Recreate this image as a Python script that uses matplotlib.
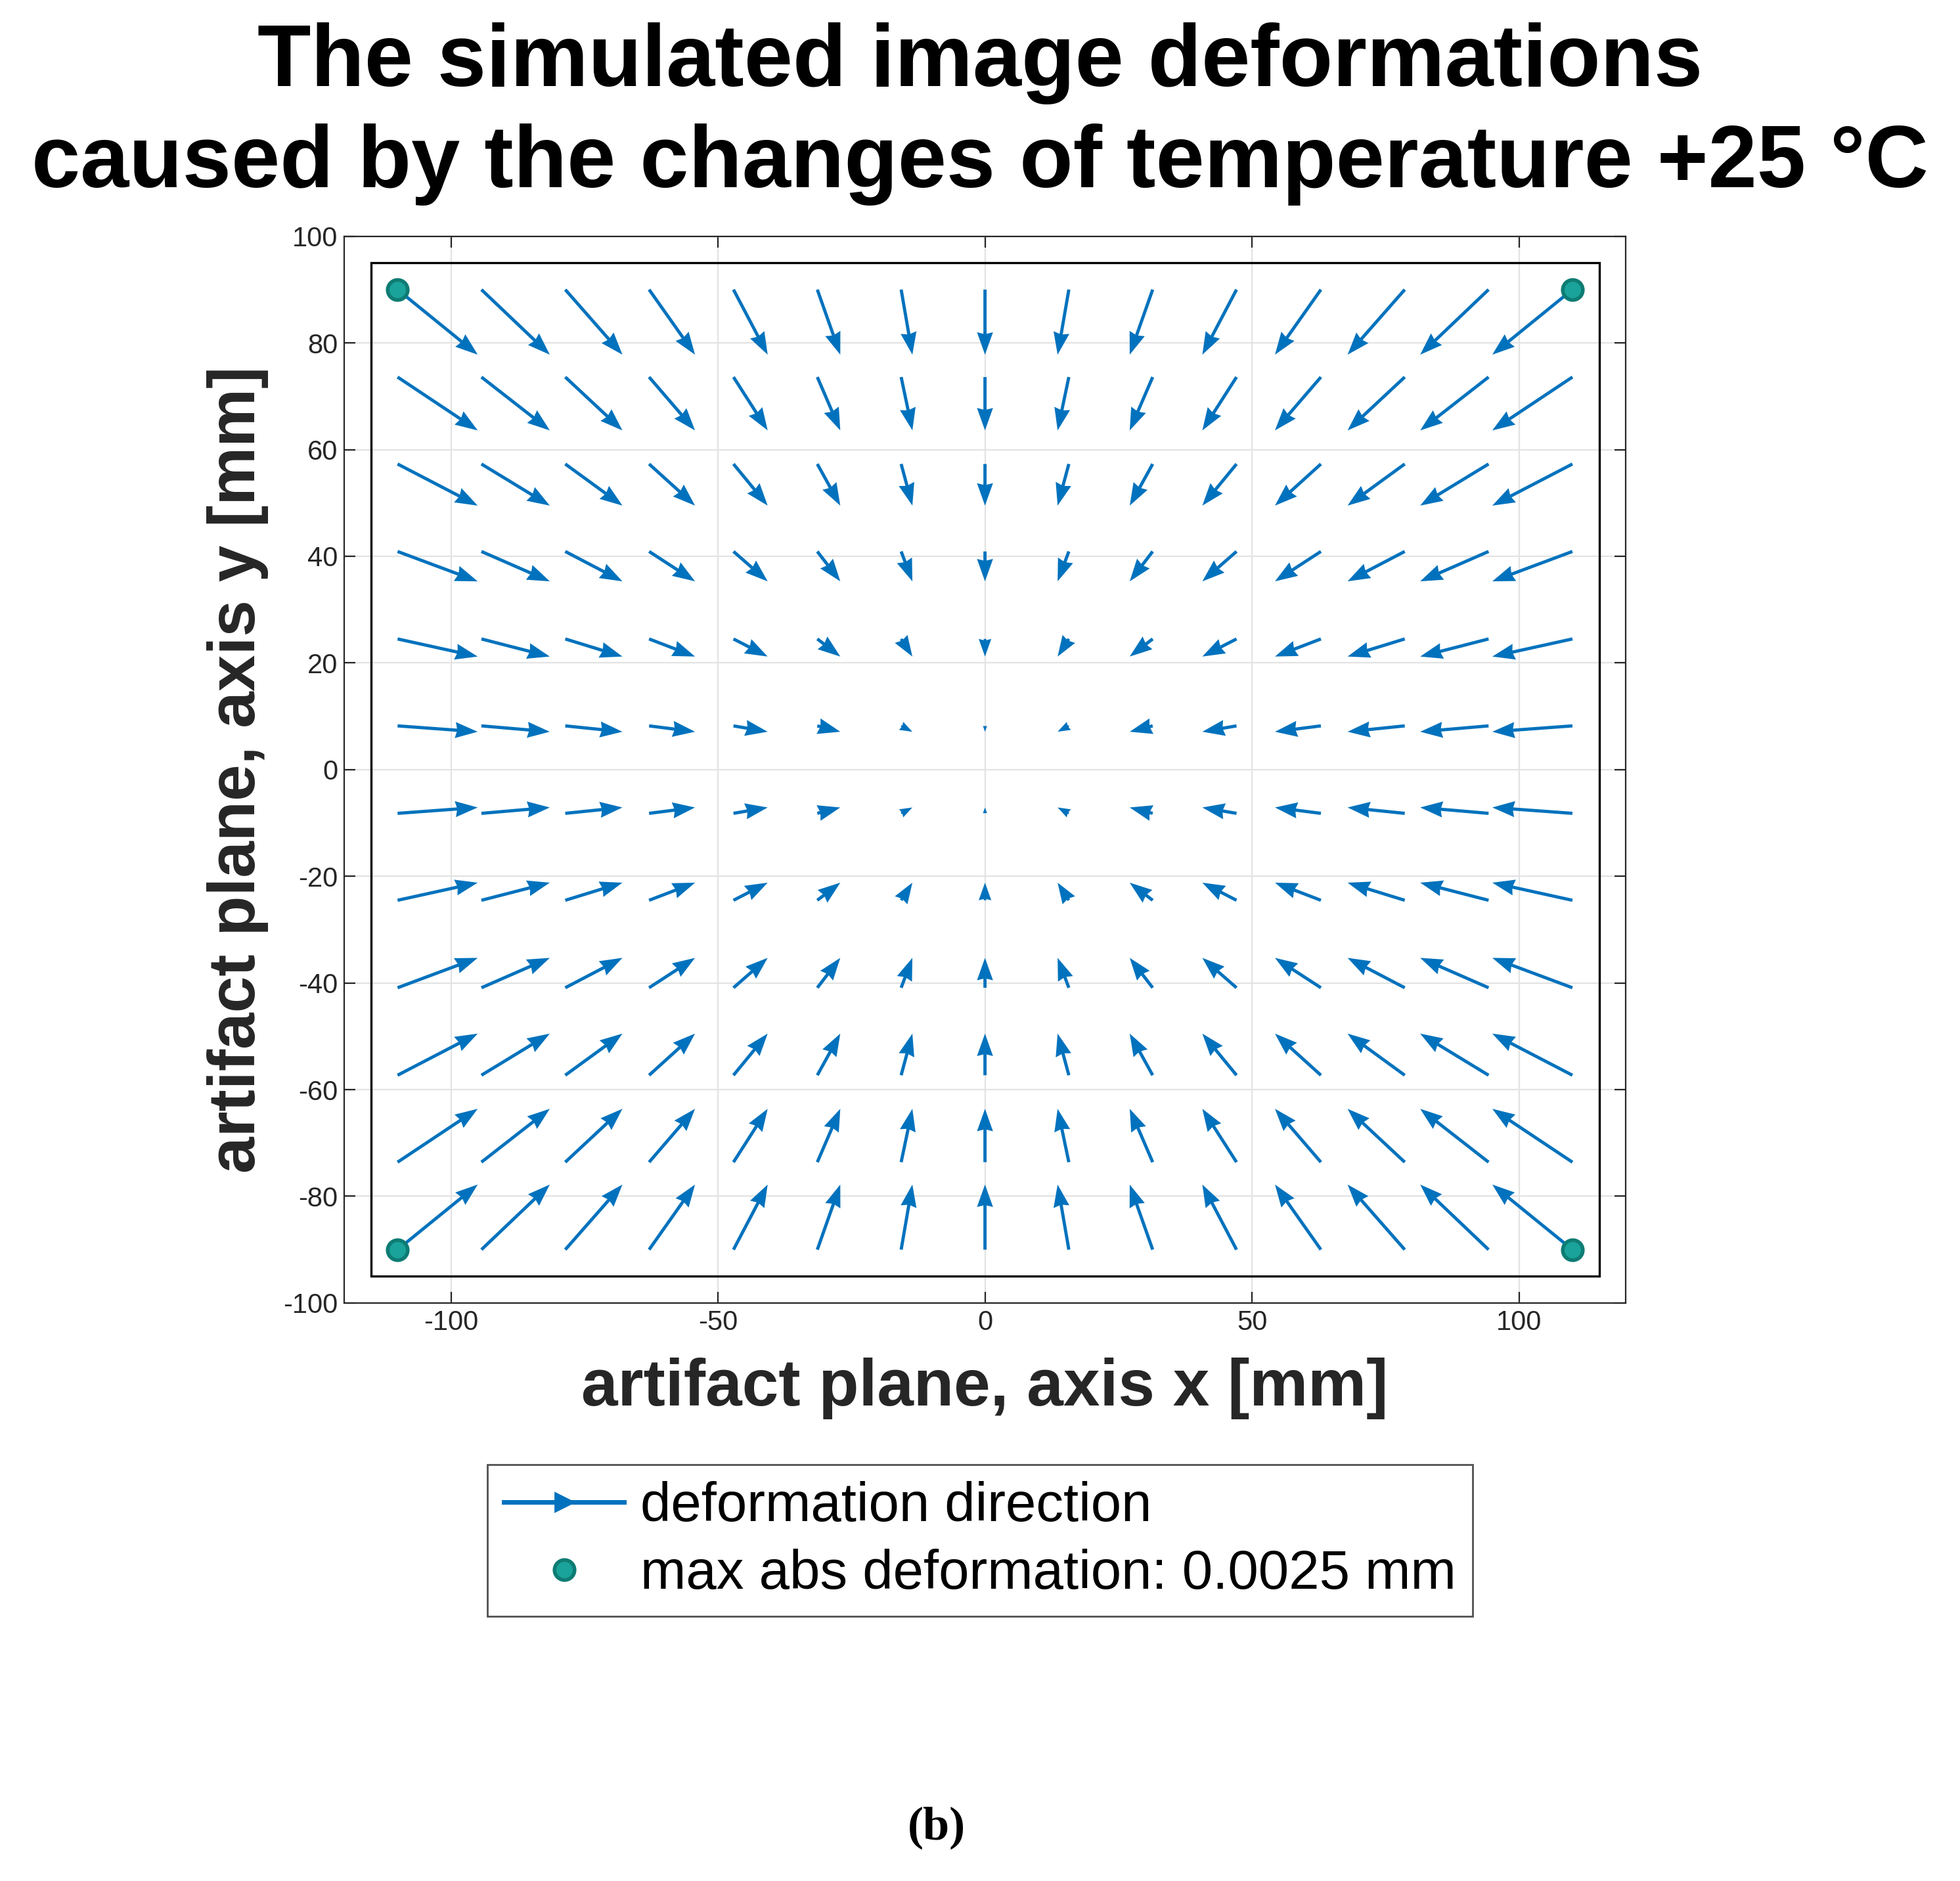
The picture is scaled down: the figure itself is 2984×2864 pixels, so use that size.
import numpy as np
import matplotlib
matplotlib.use("Agg")
import matplotlib.pyplot as plt
from matplotlib.lines import Line2D
from matplotlib.patches import Rectangle

plt.rcParams['font.family'] = ['Liberation Sans', 'DejaVu Sans']
plt.rcParams['axes.unicode_minus'] = False

x_pos = [-110, -94.3, -78.6, -62.9, -47.1, -31.4, -15.7, 0, 15.7, 31.4, 47.1, 62.9, 78.6, 94.3, 110]
y_pos = [90, 73.6, 57.3, 40.9, 24.5, 8.2, -8.2, -24.5, -40.9, -57.3, -73.6, -90]
# displacement (arrow) components, x depends on column, y on row
u_cols = [15.0, 12.8, 10.7, 8.6, 6.4, 4.3, 2.1, 0.0, -2.1, -4.3, -6.4, -8.6, -10.7, -12.8, -15.0]
v_rows = [-12.2, -10.0, -7.8, -5.6, -3.3, -1.1, 1.1, 3.3, 5.6, 7.8, 10.0, 12.2]
max_pts_x = [-110, 110, -110, 110]
max_pts_y = [90, 90, -90, -90]

X, Y = np.meshgrid(x_pos, y_pos)
U, V = np.meshgrid(u_cols, v_rows)

fig = plt.figure(figsize=(14.92, 14.32), dpi=200)
ax = fig.add_axes([0.1756, 0.3073, 0.6539, 0.5671])
blue = "#0072BD"
ax.quiver(X, Y, U, V, angles='xy', scale_units='xy', scale=1, color=blue,
          width=0.0025, headwidth=5, headlength=7, headaxislength=6.5, zorder=3)
ax.plot(max_pts_x, max_pts_y, 'o', ms=11, mfc='#1AA39A', mec='#0E7C74', mew=2, zorder=4)
ax.add_patch(Rectangle((-115, -95), 230, 190, fill=False, ec='black', lw=1.2, zorder=2))
ax.set_xlim(-120, 120)
ax.set_ylim(-100, 100)
ax.set_xticks([-100, -50, 0, 50, 100])
ax.set_yticks(np.arange(-100, 101, 20))
ax.grid(True, color='#e3e3e3', lw=0.8)
ax.tick_params(direction='in', top=True, right=True, labelsize=15, colors='#262626', length=6)
for s in ax.spines.values():
    s.set_color('#262626'); s.set_linewidth(0.8)
ax.set_xlabel('artifact plane, axis x [mm]', fontsize=36, fontweight='bold', color='#262626', labelpad=12)
ax.set_ylabel('artifact plane, axis y [mm]', fontsize=36, fontweight='bold', color='#262626', labelpad=8)
fig.suptitle('The simulated image deformations\ncaused by the changes of temperature +25 °C',
             fontsize=48, fontweight='bold', y=0.988, linespacing=1.3)

h1 = Line2D([], [], color=blue, lw=2.5, marker='>', markevery=[1], ms=10)
h2 = Line2D([], [], ls='none', marker='o', ms=11, mfc='#1AA39A', mec='#0E7C74', mew=2)
fig.legend([h1, h2], ['deformation direction', 'max abs deformation: 0.0025 mm'],
           loc='center', bbox_to_anchor=(0.5, 0.181), fontsize=30, frameon=True,
           fancybox=False, edgecolor='#262626', handlelength=2.2, handletextpad=0.3,
           borderpad=0.3, labelspacing=0.3)
fig.text(0.478, 0.022, '(b)', fontsize=26, fontweight='bold', family='Liberation Serif', ha='center')
fig.savefig('out.png', dpi=200)
